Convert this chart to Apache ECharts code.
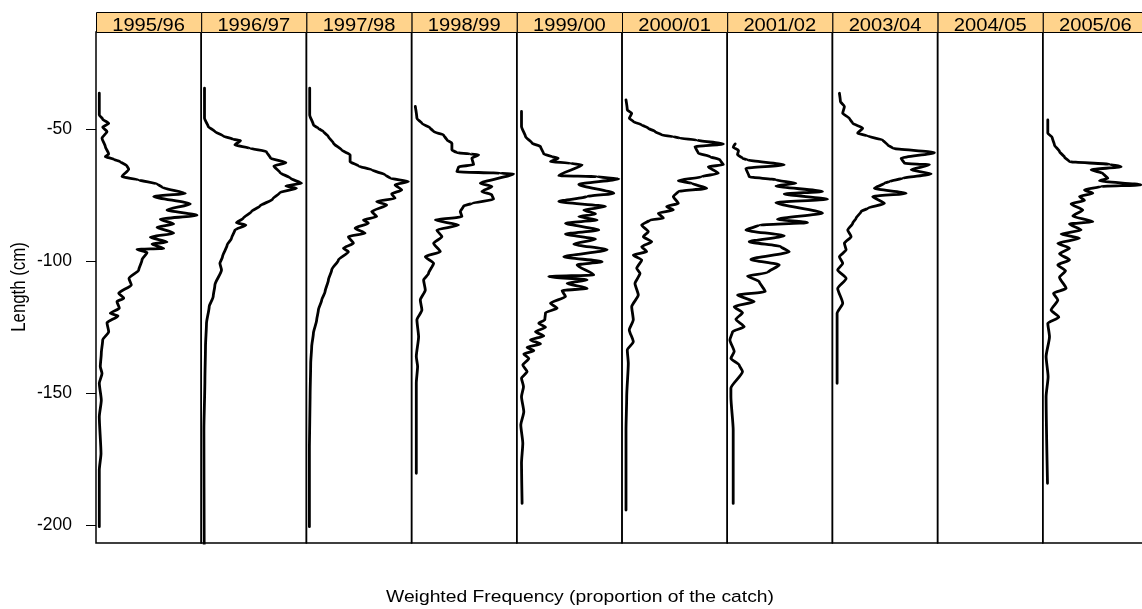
<!DOCTYPE html>
<html>
<head>
<meta charset="utf-8">
<script src="https://cdn.jsdelivr.net/npm/echarts@6/dist/echarts.min.js"></script>
<style>
html,body{margin:0;padding:0;background:#fff;}
#chart{width:1142px;height:609px;}
</style>
</head>
<body>
<div id="chart"></div>
<script>
// Panel (season) labels
const seasons = ['1995/96','1996/97','1997/98','1998/99','1999/00','2000/01','2001/02','2003/04','2004/05','2005/06'];
// Y tick values (length, cm, shown negative)
const yTicks = [-200, -150, -100, -50];

// Weighted frequency profiles: [frequency (relative units), length (cm, negative)]
const p9596 = [[3.3,-36.5],[3.3,-44.7],[6.7,-46.3],[12.7,-47.9],[6.7,-49.4],[11,-51],[6,-53.5],[9.3,-56.7],[12.7,-59.5],[9.3,-60.5],[17.7,-61.5],[24.3,-62.4],[31,-64],[32.7,-65.3],[26,-68.1],[42.7,-69.3],[61,-70.8],[66,-72.1],[89.3,-74.4],[57.7,-75.6],[94.3,-78.4],[71,-80.7],[101,-82.7],[64.3,-84.2],[77.7,-86],[61,-87.2],[77.7,-89.5],[54.3,-91],[71,-92.8],[56,-93.6],[67.7,-95.3],[41,-95.6],[51,-96.8],[46,-99.6],[42.7,-103.4],[33,-106.6],[35.3,-109.1],[22.7,-112.2],[27.7,-114.1],[21,-115.4],[23.3,-117.9],[14.3,-119.8],[22,-120.8],[11,-123.4],[12.7,-126.8],[6.7,-129.9],[5.3,-135],[4.3,-140],[6,-142.6],[3.3,-146.3],[5.3,-152.7],[3.3,-159],[5,-172.9],[3.3,-179.2],[3.3,-200.6]];
const p9697 = [[3.3,-34.6],[3.3,-46],[7,-49.1],[13.7,-51],[22,-52.7],[32,-53.9],[39.3,-54.4],[33.7,-56.1],[48.7,-57.3],[65.3,-58.6],[69.3,-61.1],[84.7,-62.8],[72.7,-64],[78.7,-66.5],[89.3,-68.7],[100.3,-70.6],[84.7,-71.6],[95.3,-72.5],[78.7,-74.1],[71.3,-76.6],[58.7,-79.2],[50.3,-81.3],[42,-83.8],[35.3,-85.5],[44.7,-86.4],[33.7,-88.3],[30.3,-91.4],[26,-93.9],[21.3,-98.4],[18.7,-100.9],[20.3,-103.4],[13.7,-109.1],[12,-113.5],[8,-117.3],[5.3,-123.6],[4.3,-132.4],[3.7,-145.1],[2.7,-164],[3,-209.5]];
const p9798 = [[3.3,-34.6],[3.3,-44.7],[7,-48.5],[12,-49.8],[17,-51],[22,-52.9],[27,-55.4],[35.3,-58],[43.7,-59.8],[43.7,-62.4],[52,-64],[65.3,-65.5],[78.7,-67.4],[83.7,-68.7],[102,-69.9],[88.7,-71.2],[95.3,-73.1],[85.3,-74.6],[88.7,-76.3],[70.3,-77.5],[80.3,-78.8],[65.3,-81.3],[70.3,-83.2],[57,-84.5],[62,-85.7],[48.7,-87.6],[58.7,-89.5],[42,-90.8],[47,-93.3],[37,-95.2],[42,-96.5],[32,-99.6],[25.3,-103.4],[22,-107.2],[18.7,-111.6],[15.3,-114.8],[12,-118.6],[10.3,-122.3],[7,-127.4],[5.3,-132.4],[4.3,-138.8],[3.7,-151.4],[3,-170.3],[3,-200.6]];
const p9899 = [[3.7,-41.5],[5.3,-46],[10.3,-47.9],[18.7,-49.7],[22,-51],[32,-52.3],[35.3,-54.2],[40.3,-55.4],[40.3,-58],[45.3,-59],[58.7,-59.5],[67,-59.8],[60.3,-61.1],[62,-63.6],[47,-64.3],[45.3,-66.2],[88.7,-66.8],[102,-67],[68.7,-70.6],[80.3,-71.8],[70.3,-73.7],[80.3,-75],[82,-76.6],[60.3,-78.2],[52,-79.2],[48.7,-81.3],[50.3,-83.2],[23.7,-84.5],[47,-86.4],[25.3,-88.3],[30.3,-90.8],[22,-93.3],[28.7,-96.5],[13.7,-98.4],[22,-100.9],[17,-104.7],[12,-107.2],[13.7,-111],[8.7,-114.8],[10.3,-118.6],[5.3,-122.3],[7,-128.7],[4.7,-136.2],[6,-140],[4.7,-146.3],[4.7,-180.4]];
const p9900 = [[4.7,-43.4],[4.7,-49.1],[8.7,-52.9],[15.3,-55.4],[23.7,-56.7],[27,-59.5],[35.3,-60.5],[41.3,-61.1],[33.7,-62.4],[53.7,-63],[65.3,-63.6],[42,-67.7],[80.3,-68.1],[102,-68.9],[62,-71],[97,-74.4],[70.3,-75.6],[42,-77.5],[88.7,-79.4],[67,-80.7],[78.7,-82.2],[62,-83.2],[80.3,-84.5],[48.7,-85.7],[82,-88.3],[48.7,-89.8],[78.7,-91.8],[57,-93.6],[90.3,-95.8],[47,-98.4],[85.3,-100.3],[60.3,-101.5],[77,-105.3],[32,-105.9],[70.3,-107.2],[50.3,-108.5],[70.3,-110.4],[45.3,-111.2],[48.7,-113.5],[33.7,-116],[40.3,-117.9],[28.7,-119.6],[28,-122.3],[22,-123.6],[28.7,-125.1],[18.7,-126.8],[27,-128.4],[13.7,-129.9],[23.7,-131.4],[10.3,-132.7],[17,-134],[7,-135.2],[12,-136.9],[6,-139.4],[10.3,-141.9],[4.7,-144.4],[6.7,-147.6],[4.7,-151.4],[7,-157.1],[4,-162.1],[6,-169],[4.7,-176.6],[5.3,-191.8]];
const p0001 = [[4,-39],[5.3,-42.8],[9.7,-44.1],[7.3,-46],[11.3,-47.2],[19.7,-48.5],[26.3,-49.7],[33,-51],[39.7,-52.3],[51.3,-52.9],[58,-53.5],[74.7,-54.2],[101.3,-55.7],[73,-56.7],[76.3,-59.2],[88,-60.5],[98,-61.7],[101.3,-63.6],[86.3,-64.3],[96.3,-66.8],[79.7,-68.1],[56.3,-69.6],[69.7,-70.6],[84.7,-72.5],[56.3,-73.7],[51.3,-75.6],[56.3,-78.2],[44.7,-79.4],[51.3,-80.7],[36.3,-81.9],[41.3,-83.8],[28,-84.5],[19.7,-86.4],[26.3,-88.9],[21.3,-90.8],[29.7,-92.7],[19.7,-94.6],[24.7,-96.5],[11.3,-97.7],[19.7,-99.6],[14.7,-102.8],[18,-104.7],[13,-108.5],[16.3,-112.9],[9.7,-117.3],[11.3,-122.3],[7.3,-126.1],[11.3,-130.6],[5.3,-133.7],[6.3,-138.8],[4.7,-151.4],[4,-164],[4,-194.3]];
const p0102 = [[8,-55.7],[6,-56.9],[11.3,-58.2],[10.3,-59.8],[15.3,-61.1],[20.3,-61.7],[57,-63.6],[18.7,-64.9],[22,-68.1],[48.7,-69.3],[68.7,-70.6],[48.7,-71.6],[95.3,-73.7],[57,-74.6],[100.3,-76.6],[48.7,-77.9],[95.3,-81.9],[50.3,-84.2],[80.3,-85.5],[32,-86.4],[18.7,-88.3],[57,-90.5],[22,-92.7],[53.7,-94.6],[62,-96.5],[23.7,-99.4],[52,-101.5],[40.3,-104.4],[20.3,-105.7],[32,-107.8],[38,-111.6],[10.3,-112.9],[27,-115.4],[7,-117.3],[15.3,-119.6],[8.7,-122.1],[17,-124.9],[5.3,-126.8],[2.7,-129.9],[7,-134.3],[3.7,-136.9],[12,-139.4],[15.3,-141.9],[3.7,-148.2],[3.7,-151.4],[6,-164],[6,-191.8]];
const p0304 = [[7,-36.5],[8,-39.6],[12,-41.5],[10.3,-44.1],[17,-46],[20.3,-47.9],[30.3,-49.7],[25.3,-51.6],[35.3,-52.7],[50.3,-54.2],[55.3,-56.1],[60.3,-57.3],[102,-59],[68.7,-61.1],[72,-63],[97,-63.6],[78.7,-65.5],[98.7,-67],[70.3,-68.7],[57,-69.9],[52,-70.6],[42,-72.5],[73.7,-74.4],[40.3,-75.6],[52,-78.2],[35.3,-80],[28.7,-81.3],[23.7,-83.8],[20.3,-85.7],[15.3,-88.3],[18.7,-90.8],[12,-93.3],[13.7,-95.8],[7,-98.4],[10.3,-100.9],[5.3,-103.4],[13.7,-106.6],[5.3,-110.4],[10.3,-116],[4.7,-119.8],[4.7,-146.3]];
const p0405 = [];
const p0506 = [[5,-46.6],[5,-51.6],[9.3,-53.2],[11.7,-56.1],[16.7,-58.6],[21.7,-60.7],[26.7,-62.4],[66.7,-63.4],[78.3,-64.3],[48.3,-65.5],[60,-66.8],[65,-68.7],[56.7,-69.6],[98.3,-71.2],[58.3,-71.8],[41.7,-73.1],[50,-74.4],[36.7,-75.6],[41.7,-77.1],[28.3,-78.4],[40,-80.7],[30,-83],[50,-85.1],[26.7,-86],[38.3,-88.3],[18.3,-89.8],[36.7,-91.4],[15,-93.3],[26.7,-95.2],[16.7,-97.3],[26.7,-99.6],[15,-101.5],[22.7,-103.7],[16.7,-106.2],[23.3,-110.4],[10.7,-112.2],[15,-114.8],[8.3,-118.6],[16,-121.3],[5,-123.6],[6.7,-128.7],[3.3,-136.2],[5.3,-143.8],[3.3,-151.4],[4.7,-184.2]];

const profiles = [p9596, p9697, p9798, p9899, p9900, p0001, p0102, p0304, p0405, p0506];

// Layout
const FONT = 'Liberation Sans, Arial, sans-serif';
const left0 = 96, panelW = 105.2, top0 = 32, panelH = 511;
const stripTop = 12, stripH = 20;
const yMin = -206.8, yMax = -13.3;

const grids = [], xAxes = [], yAxes = [], series = [], graphics = [];
seasons.forEach((s, i) => {
  const L = left0 + i * panelW;
  grids.push({left: L, top: top0, width: panelW, height: panelH, show: true,
    borderColor: '#000', borderWidth: 1.5, backgroundColor: 'transparent',
    containLabel: false, outerBoundsMode: 'none'});
  xAxes.push({type: 'value', gridIndex: i, min: 0, max: panelW, show: false});
  yAxes.push({type: 'value', gridIndex: i, min: yMin, max: yMax, show: i === 0,
    axisLine: {show: false}, splitLine: {show: false},
    axisTick: {show: i === 0, inside: false, length: 10, customValues: yTicks,
      lineStyle: {color: '#000', width: 1}},
    axisLabel: {show: i === 0, customValues: yTicks, margin: 24, fontSize: 17.5,
      color: '#000', fontFamily: FONT}});
  series.push({type: 'line', name: s, xAxisIndex: i, yAxisIndex: i, data: profiles[i],
    showSymbol: false, symbol: 'none', clip: true, silent: true, animation: false,
    smooth: 0.2, smoothMonotone: 'y',
    lineStyle: {color: '#000', width: 2.8, cap: 'round', join: 'round'}});
  graphics.push({type: 'rect', left: L, top: stripTop, z: 5,
    shape: {x: 0, y: 0, width: panelW, height: stripH},
    style: {fill: '#FFD38C', stroke: '#000', lineWidth: 1}});
  graphics.push({type: 'text', x: L + panelW / 2, y: 26, z: 6, scaleX: 1.15,
    style: {text: s, fill: '#000', font: '17.5px ' + FONT, textAlign: 'center', textVerticalAlign: 'middle'}});
});

graphics.push({type: 'text', x: 580, y: 597, scaleX: 1.15,
  style: {text: 'Weighted Frequency (proportion of the catch)', fill: '#000',
    font: '16.8px ' + FONT, textAlign: 'center', textVerticalAlign: 'middle'}});
graphics.push({type: 'text', x: 20, y: 287, rotation: Math.PI / 2, scaleY: 1.15,
  style: {text: 'Length (cm)', fill: '#000',
    font: '16.8px ' + FONT, textAlign: 'center', textVerticalAlign: 'middle'}});

const chart = echarts.init(document.getElementById('chart'), null, {renderer: 'canvas'});
chart.setOption({
  animation: false,
  backgroundColor: '#fff',
  grid: grids,
  xAxis: xAxes,
  yAxis: yAxes,
  series: series,
  graphic: graphics
});
</script>
</body>
</html>
